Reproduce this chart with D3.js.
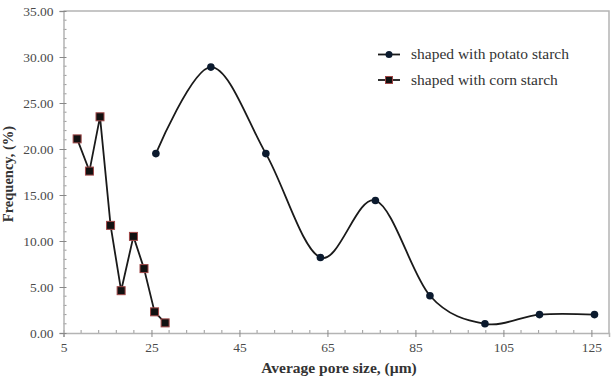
<!DOCTYPE html>
<html>
<head>
<meta charset="utf-8">
<script src="https://cdn.jsdelivr.net/npm/d3@7"></script>
<style>
  body { margin: 0; background: #fff; }
  svg { display: block; font-family: "Liberation Serif", "DejaVu Serif", serif; }
</style>
</head>
<body>
<svg id="chart"></svg>
<script>
const width = 613;
const height = 377;

// potato starch series
const potatoSize = [26.0, 38.5, 51.0, 63.4, 75.9, 88.3, 100.8, 113.2, 125.7];
const potatoFreq = [19.5, 28.9, 19.5, 8.2, 14.4, 4.05, 1.0, 2.0, 2.0];

// corn starch series
const cornSize = [8.1, 10.9, 13.3, 15.7, 18.1, 20.9, 23.3, 25.7, 28.1];
const cornFreq = [21.1, 17.6, 23.5, 11.7, 4.6, 10.5, 7.0, 2.3, 1.1];

const xTicks = [5, 25, 45, 65, 85, 105, 125];
const yTicks = [0, 5, 10, 15, 20, 25, 30, 35];
const legendLabels = ["shaped with potato starch", "shaped with corn starch"];

const plotLeft = 63.5, plotRight = 609, plotTop = 11, plotBottom = 333;

const x = d3.scaleLinear().domain([5, 129]).range([plotLeft, plotRight]);
const y = d3.scaleLinear().domain([0, 35]).range([plotBottom, plotTop]);

const svg = d3.select("#chart")
    .attr("width", width)
    .attr("height", height);

const axisColor = "#b4b4b4";

// frame (top + right)
svg.append("path")
    .attr("d", "M" + plotLeft + "," + plotTop + "H" + plotRight + "V" + plotBottom)
    .attr("fill", "none")
    .attr("stroke", axisColor)
    .attr("stroke-width", 1.5);

// minor ticks
const xMinor = d3.range(5, 129, 4).filter(function (v) { return (v - 5) % 20 !== 0; });
svg.append("g").selectAll("line")
    .data(xMinor)
    .enter().append("line")
    .attr("x1", function (d) { return x(d); })
    .attr("x2", function (d) { return x(d); })
    .attr("y1", plotBottom)
    .attr("y2", plotBottom - 3)
    .attr("stroke", "#999")
    .attr("stroke-width", 1);

const yMinor = d3.range(1, 35).filter(function (v) { return v % 5 !== 0; });
svg.append("g").selectAll("line")
    .data(yMinor)
    .enter().append("line")
    .attr("x1", plotLeft)
    .attr("x2", plotLeft + 3)
    .attr("y1", function (d) { return y(d); })
    .attr("y2", function (d) { return y(d); })
    .attr("stroke", "#999")
    .attr("stroke-width", 1);

// axes
const xAxis = svg.append("g")
    .attr("transform", "translate(0," + plotBottom + ")")
    .call(d3.axisBottom(x).tickValues(xTicks).tickSize(4).tickPadding(5).tickFormat(d3.format("d")));

const yAxis = svg.append("g")
    .attr("transform", "translate(" + plotLeft + ",0)")
    .call(d3.axisLeft(y).tickValues(yTicks).tickSize(4).tickPadding(6).tickFormat(d3.format(".2f")));

[xAxis, yAxis].forEach(function (a) {
    a.select(".domain").attr("stroke", axisColor).attr("stroke-width", 1.5);
    a.selectAll(".tick line").attr("stroke", "#888").attr("stroke-width", 1);
    a.selectAll(".tick text")
        .attr("fill", "#4a4a4a")
        .style("font-family", "'Liberation Serif', serif")
        .style("font-size", "13.5px");
});
xAxis.selectAll(".tick line").attr("y1", -3);
yAxis.selectAll(".tick line").attr("x1", 3);

// axis titles
svg.append("text")
    .attr("x", 339)
    .attr("y", 373)
    .attr("text-anchor", "middle")
    .attr("font-weight", "bold")
    .attr("font-size", "15.5px")
    .attr("fill", "#333")
    .text("Average pore size, (µm)");

svg.append("text")
    .attr("transform", "translate(13,174) rotate(-90)")
    .attr("text-anchor", "middle")
    .attr("font-weight", "bold")
    .attr("font-size", "14.5px")
    .attr("fill", "#333")
    .text("Frequency, (%)");

const potato = potatoSize.map(function (s, i) { return [s, potatoFreq[i]]; });
const corn = cornSize.map(function (s, i) { return [s, cornFreq[i]]; });

const smoothLine = d3.line()
    .x(function (d) { return x(d[0]); })
    .y(function (d) { return y(d[1]); })
    .curve(d3.curveCardinal.tension(0));

const straightLine = d3.line()
    .x(function (d) { return x(d[0]); })
    .y(function (d) { return y(d[1]); });

svg.append("path")
    .attr("d", smoothLine(potato))
    .attr("fill", "none")
    .attr("stroke", "#1a1a1a")
    .attr("stroke-width", 1.8);

svg.append("path")
    .attr("d", straightLine(corn))
    .attr("fill", "none")
    .attr("stroke", "#1a1a1a")
    .attr("stroke-width", 1.8);

const circleColor = "#0b1a2e";
const squareFill = "#111";
const squareStroke = "#a04848";

svg.append("g").selectAll("circle")
    .data(potato)
    .enter().append("circle")
    .attr("cx", function (d) { return x(d[0]); })
    .attr("cy", function (d) { return y(d[1]); })
    .attr("r", 3.8)
    .attr("fill", circleColor);

svg.append("g").selectAll("rect")
    .data(corn)
    .enter().append("rect")
    .attr("x", function (d) { return x(d[0]) - 4; })
    .attr("y", function (d) { return y(d[1]) - 4; })
    .attr("width", 8)
    .attr("height", 8)
    .attr("fill", squareFill)
    .attr("stroke", squareStroke)
    .attr("stroke-width", 1);

// legend
const legend = svg.append("g");
const rows = [54.5, 80];
legendLabels.forEach(function (label, i) {
    const ly = rows[i];
    legend.append("line")
        .attr("x1", 378).attr("x2", 400)
        .attr("y1", ly).attr("y2", ly)
        .attr("stroke", "#1a1a1a")
        .attr("stroke-width", 1.8);
    if (i === 0) {
        legend.append("circle")
            .attr("cx", 389).attr("cy", ly).attr("r", 3.5)
            .attr("fill", circleColor);
    } else {
        legend.append("rect")
            .attr("x", 385.5).attr("y", ly - 3.5)
            .attr("width", 7).attr("height", 7)
            .attr("fill", squareFill)
            .attr("stroke", squareStroke);
    }
    legend.append("text")
        .attr("x", 411)
        .attr("y", ly + 4.5)
        .attr("font-size", "15.5px")
        .attr("fill", "#333")
        .text(label);
});
</script>
</body>
</html>
